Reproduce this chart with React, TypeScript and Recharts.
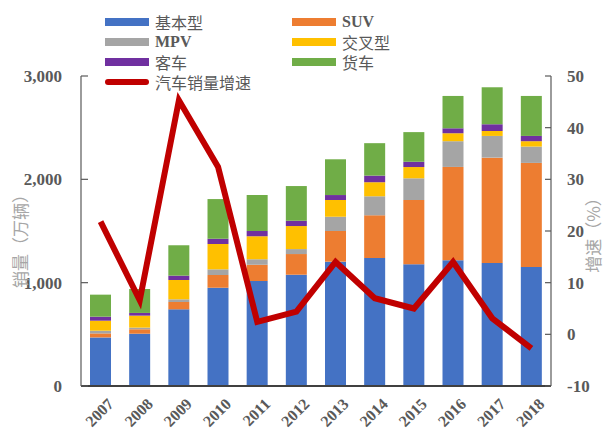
import { ComposedChart, Bar, Line, XAxis, YAxis } from "recharts"

const years = ["2007", "2008", "2009", "2010", "2011", "2012", "2013", "2014", "2015", "2016", "2017", "2018"]
const basic = [470, 506, 742, 951, 1016, 1077, 1203, 1239, 1178, 1217, 1191, 1152]
const suv = [39, 43, 71, 123, 158, 200, 297, 413, 622, 903, 1019, 1007]
const mpv = [26, 16, 26, 55, 52, 48, 138, 184, 210, 249, 210, 158]
const cross = [97, 116, 187, 245, 223, 223, 162, 136, 109, 77, 48, 52]
const bus = [39, 26, 42, 51, 51, 51, 48, 64, 51, 48, 65, 51]
const truck = [213, 232, 294, 384, 348, 336, 346, 314, 287, 313, 358, 387]
const growth = [21.8, 6.6, 45.3, 32.4, 2.4, 4.4, 14.0, 7.0, 5.0, 14.0, 3.1, -2.7]

const leftTicks = [0, 1000, 2000, 3000]
const rightTicks = [-10, 0, 10, 20, 30, 40, 50]

const series = [
  { key: "basic", name: "基本型", color: "#4472C4" },
  { key: "suv", name: "SUV", color: "#ED7D31" },
  { key: "mpv", name: "MPV", color: "#A5A5A5" },
  { key: "cross", name: "交叉型", color: "#FFC000" },
  { key: "bus", name: "客车", color: "#7030A0" },
  { key: "truck", name: "货车", color: "#70AD47" },
]
const lineName = "汽车销量增速"
const lineColor = "#C00000"

const data = years.map((y, i) => ({
  year: y,
  basic: basic[i],
  suv: suv[i],
  mpv: mpv[i],
  cross: cross[i],
  bus: bus[i],
  truck: truck[i],
  growth: growth[i],
}))

const serif = "'Liberation Serif', 'Times New Roman', serif"
const cjk = "'Noto Sans CJK SC', sans-serif"
const tickGray = "#595959"

const LeftTick = (props: any) => {
  const { x, y, payload } = props
  return (
    <g>
      <line x1={x + 19} x2={x + 26} y1={y} y2={y} stroke={tickGray} strokeWidth={1.2} />
      <text x={x} y={y} dy="0.35em" textAnchor="end" fontFamily={serif} fontWeight="bold" fontSize={17} fill={tickGray}>
        {Number(payload.value).toLocaleString("en-US")}
      </text>
    </g>
  )
}

const RightTick = (props: any) => {
  const { x, y, payload } = props
  return (
    <g>
      <line x1={x - 16} x2={x - 22} y1={y} y2={y} stroke={tickGray} strokeWidth={1.2} />
      <text x={x} y={y} dy="0.35em" textAnchor="start" fontFamily={serif} fontWeight="bold" fontSize={17} fill={tickGray}>
        {payload.value}
      </text>
    </g>
  )
}

const YearTick = (props: any) => {
  const { x, y, payload } = props
  const tx = x + 5
  return (
    <text
      x={tx}
      y={y}
      dy="0.8em"
      textAnchor="end"
      transform={`rotate(-45 ${tx} ${y})`}
      fontFamily={serif}
      fontWeight="bold"
      fontSize={16}
      fill={tickGray}
    >
      {payload.value}
    </text>
  )
}

function ChartLegend() {
  const rows = [
    [series[0], series[1]],
    [series[2], series[3]],
    [series[4], series[5]],
  ]
  const label = (name: string) => {
    const latin = /^[A-Z]+$/.test(name)
    return (
      <span
        style={{
          fontFamily: latin ? serif : cjk,
          fontWeight: latin ? "bold" : "normal",
          fontSize: 16,
          color: tickGray,
          lineHeight: "20px",
          whiteSpace: "nowrap",
        }}
      >
        {name}
      </span>
    )
  }
  return (
    <div style={{ position: "absolute", left: 105, top: 12, width: 400 }}>
      {rows.map((r, i) => (
        <div key={i} style={{ display: "flex", height: 20, alignItems: "center" }}>
          {r.map((s) => (
            <div key={s.key} style={{ display: "flex", alignItems: "center", width: 187, flexShrink: 0 }}>
              <div style={{ width: 44, height: 8, background: s.color, marginRight: 6 }} />
              {label(s.name)}
            </div>
          ))}
        </div>
      ))}
      <div style={{ display: "flex", height: 20, alignItems: "center" }}>
        <div style={{ width: 44, height: 6, background: lineColor, borderRadius: 3, marginRight: 6 }} />
        {label(lineName)}
      </div>
    </div>
  )
}

export default function App() {
  return (
    <div style={{ position: "absolute", left: 0, top: 0, width: 608, height: 434, background: "#fff" }}>
      <ComposedChart width={608} height={434} data={data} margin={{ top: 76, right: 0, left: 0, bottom: 0 }} barSize={21}>
        <XAxis
          dataKey="year"
          height={48}
          tickLine={false}
          tickSize={0}
          tickMargin={10}
          interval={0}
          axisLine={{ stroke: "#404040", strokeWidth: 2 }}
          tick={<YearTick />}
        />
        <YAxis
          yAxisId="left"
          width={81}
          domain={[0, 3000]}
          ticks={leftTicks}
          tickLine={false}
          tickSize={0}
          tickMargin={19}
          axisLine={{ stroke: tickGray, strokeWidth: 1.2 }}
          tick={<LeftTick />}
          label={{ value: "销量（万辆）", angle: -90, position: "insideLeft", dx: 16, dy: 6, style: { fontFamily: cjk, fontSize: 17, fill: "#A6A6A6", textAnchor: "middle" } }}
        />
        <YAxis
          yAxisId="right"
          orientation="right"
          width={57}
          domain={[-10, 50]}
          ticks={rightTicks}
          tickLine={false}
          tickSize={0}
          tickMargin={16}
          axisLine={{ stroke: tickGray, strokeWidth: 1.2 }}
          tick={<RightTick />}
          label={{ value: "增速（%）", angle: -90, position: "insideRight", dx: -9, dy: 0, style: { fontFamily: cjk, fontSize: 17, fill: "#A6A6A6", textAnchor: "middle" } }}
        />
        {series.map((s) => (
          <Bar key={s.key} yAxisId="left" dataKey={s.key} name={s.name} stackId="a" fill={s.color} isAnimationActive={false} />
        ))}
        <Line
          yAxisId="right"
          type="linear"
          dataKey="growth"
          name={lineName}
          stroke={lineColor}
          strokeWidth={6}
          dot={false}
          isAnimationActive={false}
        />
      </ComposedChart>
      <ChartLegend />
    </div>
  )
}
